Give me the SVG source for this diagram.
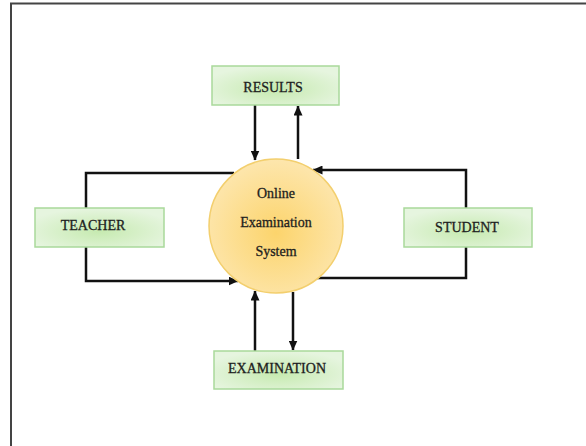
<svg xmlns="http://www.w3.org/2000/svg" width="586" height="446" viewBox="0 0 586 446">
<defs>
<radialGradient id="gBox" cx="50%" cy="60%" r="60%">
<stop offset="0" stop-color="#c6eab0"/>
<stop offset="1" stop-color="#e6f5df"/>
</radialGradient>
<radialGradient id="gCircle" cx="50%" cy="55%" r="55%">
<stop offset="0" stop-color="#fcd46c"/>
<stop offset="1" stop-color="#fde6ad"/>
</radialGradient>
<marker id="arr" markerWidth="10" markerHeight="9" refX="9.5" refY="4.5" orient="auto" markerUnits="userSpaceOnUse">
<path d="M0,0 L10,4.5 L0,9 z" fill="#111"/>
</marker>
<style>
.box{fill:url(#gBox);stroke:#a9d99b;stroke-width:1.5}
.lbl{font-family:"Liberation Serif","Times New Roman",serif;font-size:14px;fill:#1e1e1e;stroke:#1e1e1e;stroke-width:0.3;text-anchor:middle}
.ln{fill:none;stroke:#111;stroke-width:2.5}
</style>
</defs>
<rect width="586" height="446" fill="#fff"/>
<path d="M11,446 L11,3.5 L586,3.5" fill="none" stroke="#444" stroke-width="2"/>
<g id="connectors">
<path class="ln" d="M255,105 L255,160" marker-end="url(#arr)"/>
<path class="ln" d="M298,159 L298,106" marker-end="url(#arr)"/>
<path class="ln" d="M86,208 L86,173 L234,173"/>
<path class="ln" d="M86,247 L86,281 L238,281" marker-end="url(#arr)"/>
<path class="ln" d="M466,208 L466,170 L313,170" marker-end="url(#arr)"/>
<path class="ln" d="M466,247 L466,278 L316,278"/>
<path class="ln" d="M255,351 L255,291" marker-end="url(#arr)"/>
<path class="ln" d="M293,292 L293,350" marker-end="url(#arr)"/>
</g>
<g id="results">
<rect class="box" x="212" y="66" width="127" height="39"/>
<text class="lbl" x="273" y="92">RESULTS</text>
</g>
<g id="teacher">
<rect class="box" x="35" y="208" width="129" height="39"/>
<text class="lbl" x="93" y="230">TEACHER</text>
</g>
<g id="student">
<rect class="box" x="404" y="208" width="128" height="39"/>
<text class="lbl" x="467" y="232">STUDENT</text>
</g>
<g id="examination">
<rect class="box" x="214" y="351" width="129" height="38"/>
<text class="lbl" x="277" y="373">EXAMINATION</text>
</g>
<g id="system">
<circle cx="276" cy="226" r="67" fill="url(#gCircle)" stroke="#f3cf6e" stroke-width="1.5"/>
<text class="lbl" x="276" y="198">Online</text>
<text class="lbl" x="276" y="227">Examination</text>
<text class="lbl" x="276" y="256">System</text>
</g>
</svg>
